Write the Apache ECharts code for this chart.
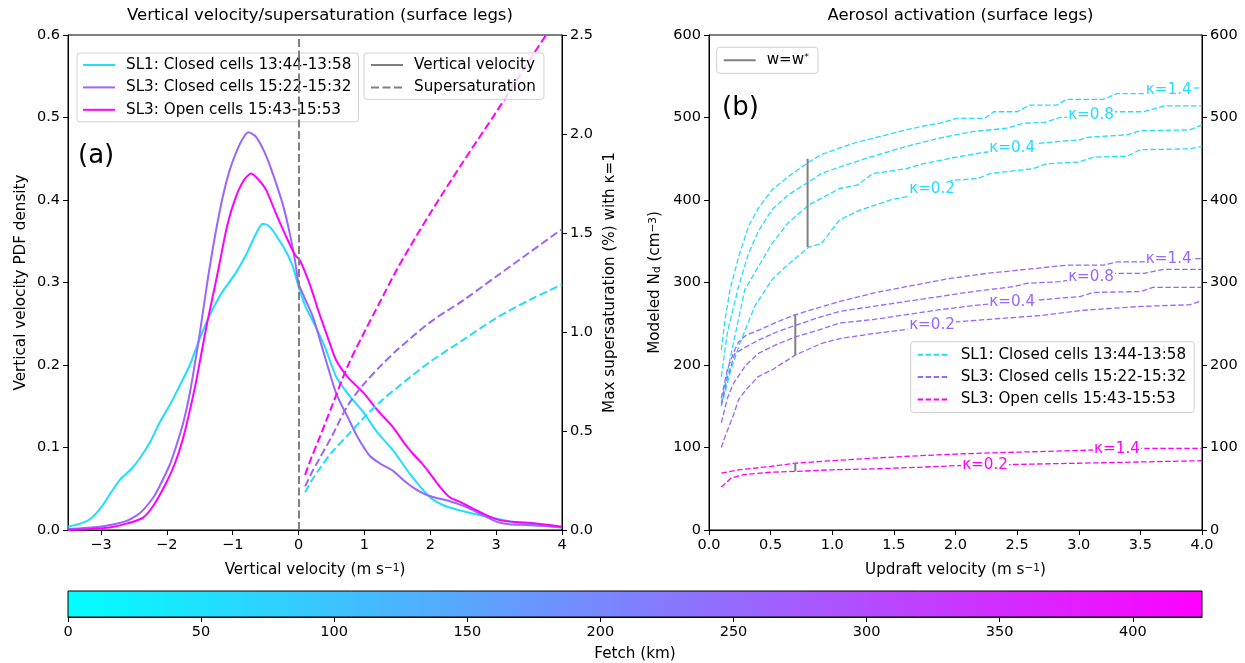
<!DOCTYPE html>
<html><head><meta charset="utf-8">
<script src="https://cdn.jsdelivr.net/npm/echarts@6/dist/echarts.min.js"></script>
<style>html,body{margin:0;padding:0;background:#fff}#c{width:1245px;height:663px}</style>
</head><body><div id="c"></div>
<script>
// ---------------- DATA ----------------
const caseNames = ['SL1: Closed cells 13:44-13:58', 'SL3: Closed cells 15:22-15:32', 'SL3: Open cells 15:43-15:53'];

// Panel (a): vertical velocity PDFs  [w (m/s), density]
const pdfSL1 = [[-3.5,0.004],[-3.3,0.008],[-3.15,0.014],[-3.0,0.027],[-2.85,0.045],[-2.71,0.061],[-2.55,0.073],[-2.41,0.087],[-2.25,0.107],[-2.11,0.13],[-1.95,0.152],[-1.81,0.174],[-1.65,0.2],[-1.5,0.232],[-1.35,0.26],[-1.2,0.283],[-1.1,0.295],[-0.95,0.312],[-0.8,0.333],[-0.7,0.35],[-0.62,0.363],[-0.55,0.371],[-0.48,0.37],[-0.4,0.364],[-0.3,0.352],[-0.2,0.339],[-0.09,0.32],[0,0.295],[0.1,0.272],[0.25,0.248],[0.4,0.222],[0.57,0.186],[0.75,0.165],[0.99,0.142],[1.2,0.118],[1.43,0.097],[1.7,0.067],[1.99,0.04],[2.2,0.03],[2.44,0.024],[2.7,0.019],[3.0,0.014],[3.3,0.009],[3.6,0.006],[4.0,0.003]];
const pdfSL3closed = [[-3.5,0.001],[-3.02,0.004],[-2.8,0.007],[-2.61,0.011],[-2.45,0.018],[-2.36,0.024],[-2.2,0.04],[-2.11,0.053],[-1.95,0.08],[-1.86,0.101],[-1.75,0.13],[-1.65,0.166],[-1.5,0.238],[-1.38,0.303],[-1.26,0.36],[-1.15,0.404],[-1.05,0.435],[-0.95,0.457],[-0.85,0.474],[-0.76,0.482],[-0.65,0.477],[-0.54,0.462],[-0.44,0.443],[-0.34,0.42],[-0.24,0.395],[-0.14,0.362],[-0.05,0.325],[0,0.299],[0.1,0.28],[0.22,0.258],[0.4,0.21],[0.57,0.166],[0.77,0.133],[0.9,0.112],[1.08,0.09],[1.25,0.08],[1.43,0.072],[1.6,0.06],[1.73,0.052],[1.9,0.044],[2.04,0.04],[2.25,0.036],[2.44,0.031],[2.6,0.026],[2.75,0.02],[2.9,0.014],[3.05,0.009],[3.2,0.007],[3.45,0.006],[3.7,0.005],[4.0,0.003]];
const pdfSL3open = [[-3.5,0.0],[-3.2,0.001],[-2.87,0.003],[-2.6,0.008],[-2.36,0.015],[-2.2,0.03],[-2.01,0.057],[-1.88,0.08],[-1.76,0.109],[-1.65,0.145],[-1.55,0.182],[-1.4,0.246],[-1.25,0.303],[-1.2,0.323],[-1.08,0.37],[-0.95,0.404],[-0.83,0.424],[-0.72,0.432],[-0.6,0.424],[-0.49,0.412],[-0.35,0.385],[-0.19,0.356],[-0.05,0.333],[0.02,0.327],[0.17,0.298],[0.3,0.266],[0.45,0.232],[0.57,0.206],[0.75,0.185],[0.99,0.166],[1.2,0.145],[1.43,0.125],[1.6,0.106],[1.73,0.093],[1.87,0.081],[1.99,0.069],[2.15,0.052],[2.29,0.04],[2.45,0.034],[2.65,0.026],[2.85,0.018],[3.05,0.012],[3.25,0.01],[3.45,0.009],[3.7,0.007],[4.0,0.004]];

// Panel (a): max supersaturation (%) with kappa=1
const ssW = [0.1,0.2,0.3,0.5,0.75,1.0,1.25,1.5,2.0,2.5,3.0,3.5,4.0];
const ssSL1 = [0.19,0.25,0.30,0.39,0.48,0.57,0.65,0.72,0.85,0.96,1.07,1.16,1.24];
const ssSL3closed = [0.22,0.29,0.35,0.47,0.63,0.74,0.83,0.91,1.05,1.16,1.28,1.40,1.52];
const ssSL3open = [0.278,0.37,0.45,0.62,0.83,1.0,1.16,1.32,1.6,1.86,2.11,2.37,2.62];
const zeroLineW = 0;

// Panel (b): modeled Nd (cm-3) vs updraft velocity, per kappa
const kappas = [0.2, 0.4, 0.8, 1.4];
const ndSL1_k02 = [[0.1,150],[0.17,190],[0.24,222],[0.37,271],[0.51,303],[0.62,319],[0.81,343],[0.91,347],[1.06,376],[1.23,388],[1.47,400],[1.6,404],[1.75,410],[1.98,424],[2.18,426],[2.28,432],[2.63,438],[2.74,444],[3.0,446],[3.12,452],[3.39,453],[3.5,461],[3.9,462],[4.0,465]];
const ndSL1_k04 = [[0.1,154],[0.18,214],[0.29,291],[0.4,319],[0.51,347],[0.64,372],[0.81,394],[0.91,402],[1.06,414],[1.2,418],[1.33,432],[1.6,438],[1.74,444],[2.01,452],[2.2,457],[2.35,460],[2.55,466],[2.69,469],[3.01,473],[3.07,476],[3.39,479],[3.5,484],[3.9,485],[4.0,491]];
const ndSL1_k08 = [[0.1,186],[0.15,240],[0.24,295],[0.32,335],[0.4,362],[0.51,388],[0.64,406],[0.81,422],[0.91,432],[1.06,440],[1.33,453],[1.6,465],[1.87,475],[2.14,483],[2.42,487],[2.55,493],[2.72,494],[2.85,500],[3.0,501],[3.28,507],[3.53,507],[3.69,514],[4.0,514]];
const ndSL1_k14 = [[0.1,218],[0.13,255],[0.17,291],[0.24,331],[0.32,368],[0.4,390],[0.51,412],[0.64,428],[0.81,446],[0.91,455],[1.06,463],[1.2,470],[1.39,477],[1.6,485],[1.75,490],[1.87,493],[2.01,499],[2.24,499],[2.31,507],[2.5,507],[2.6,515],[2.82,515],[2.9,522],[3.2,522],[3.31,529],[3.55,529],[3.65,533],[3.85,535],[4.0,536]];
const ndSL3c_k02 = [[0.1,100],[0.13,113],[0.2,140],[0.24,158],[0.3,170],[0.4,186],[0.51,194],[0.7,212],[0.91,226],[1.06,232],[1.33,238],[1.6,243],[1.98,252],[2.42,257],[2.7,260],[3.01,266],[3.5,271],[3.9,273],[4.0,278]];
const ndSL3c_k04 = [[0.1,130],[0.15,160],[0.2,178],[0.3,200],[0.4,214],[0.55,225],[0.7,234],[0.9,243],[1.06,251],[1.33,255],[1.6,261],[1.87,267],[2.2,273],[2.69,279],[3.01,283],[3.12,288],[3.5,289],[3.6,294],[4.0,294]];
const ndSL3c_k08 = [[0.1,152],[0.15,185],[0.21,214],[0.3,222],[0.4,230],[0.55,240],[0.7,248],[0.9,258],[1.06,265],[1.33,271],[1.6,277],[1.87,283],[2.14,289],[2.47,295],[2.58,299],[2.85,301],[3.0,305],[3.28,311],[3.53,311],[3.69,316],[4.0,316]];
const ndSL3c_k14 = [[0.1,160],[0.15,195],[0.2,215],[0.24,228],[0.3,236],[0.4,242],[0.55,252],[0.7,261],[0.9,270],[1.06,277],[1.33,287],[1.6,295],[1.96,305],[2.25,311],[2.58,316],[2.9,321],[3.2,321],[3.31,325],[3.55,325],[3.65,328],[4.0,329]];
const ndSL3o_k02 = [[0.1,52],[0.18,63],[0.28,67],[0.5,70],[0.7,71],[1.0,73],[1.32,74],[1.7,76],[2.0,78],[2.67,80],[3.35,82],[4.0,84]];
const ndSL3o_k14 = [[0.1,69],[0.24,73],[0.5,77],[0.7,81],[1.0,84],[1.32,87],[1.7,90],[2.0,92],[2.4,94],[2.67,95],[3.13,97],[3.5,99],[4.0,99]];

// w = w* markers (updraft, low / high Nd across kappa)
const wstar = [0.8, 0.7, 0.7];
const wstarLo = [343, 212, 71];
const wstarHi = [450, 261, 81];

// kappa label positions along the curves (w)
const kLabelW_closed = [1.81, 2.46, 3.1, 3.73];
const kLabelW_open = [2.24, null, null, 3.31];

// colorbar
const fetchMax = 426;
const fetchTicks = [0,50,100,150,200,250,300,350,400];

// ---------------- STYLE ----------------
const colors = ['#22ddff', '#9966ff', '#ff00ff'];
const FONT = 'DejaVu Sans';
const FS = 14.5;   // tick labels
const FS2 = 15.2;  // axis names, legends
const gray = '#808080';

function interp(pts, x) {
  for (let i = 0; i < pts.length - 1; i++) {
    if (x >= pts[i][0] && x <= pts[i+1][0]) {
      const t = (x - pts[i][0]) / (pts[i+1][0] - pts[i][0]);
      return pts[i][1] + t * (pts[i+1][1] - pts[i][1]);
    }
  }
  return pts[pts.length-1][1];
}

const chart = echarts.init(document.getElementById('c'), null, {renderer: 'canvas'});

const axisCommon = {
  axisLine: {show: true, onZero: false, lineStyle: {color: '#000', width: 1}},
  axisTick: {show: true, length: 5, lineStyle: {color: '#000', width: 1}},
  axisLabel: {color: '#000', fontFamily: FONT, fontSize: FS, margin: 8},
  splitLine: {show: false},
  nameTextStyle: {color: '#000', fontFamily: FONT, fontSize: FS2, rich: {
    sup: {fontSize: 10.5, fontFamily: FONT, color: '#000', verticalAlign: 'top', lineHeight: 10},
    sub: {fontSize: 10.5, fontFamily: FONT, color: '#000', verticalAlign: 'bottom', lineHeight: 10}
  }}
};
function ax(o) { return Object.assign({}, JSON.parse(JSON.stringify(axisCommon)), o); }
const minusFmt = v => (v < 0 ? '\u2212' + Math.abs(v) : String(v));

const series = [];
const pdfs = [pdfSL1, pdfSL3closed, pdfSL3open];
const sss = [ssSL1, ssSL3closed, ssSL3open];
pdfs.forEach((d, i) => {
  const s = {
    name: caseNames[i], type: 'line', xAxisIndex: 0, yAxisIndex: 0, data: d,
    symbol: 'none', smooth: 0.25, lineStyle: {color: colors[i], width: 2}, itemStyle: {color: colors[i]}, z: 3
  };
  if (i === 0) {
    s.markLine = {silent: true, symbol: 'none', label: {show: false},
      lineStyle: {color: gray, type: [8, 3.5], width: 2}, data: [{xAxis: zeroLineW}]};
  }
  series.push(s);
});
sss.forEach((d, i) => {
  series.push({
    name: 'ss' + i, type: 'line', xAxisIndex: 0, yAxisIndex: 1,
    data: ssW.map((w, j) => [w, d[j]]), symbol: 'none', smooth: 0.3,
    lineStyle: {color: colors[i], width: 2, type: [8, 3.5]}, itemStyle: {color: colors[i]}, z: 3
  });
});
series.push({name: 'Vertical velocity', type: 'line', xAxisIndex: 0, yAxisIndex: 0, data: [], symbol: 'none',
  lineStyle: {color: gray, width: 2}, itemStyle: {color: gray}});
series.push({name: 'Supersaturation', type: 'line', xAxisIndex: 0, yAxisIndex: 0, data: [], symbol: 'none',
  lineStyle: {color: gray, width: 2, type: [8, 3.5]}, itemStyle: {color: gray}});

// panel b
const ndSets = [
  [ndSL1_k02, ndSL1_k04, ndSL1_k08, ndSL1_k14],
  [ndSL3c_k02, ndSL3c_k04, ndSL3c_k08, ndSL3c_k14],
  [ndSL3o_k02, null, null, ndSL3o_k14]
];
const labelW = [kLabelW_closed, kLabelW_closed, kLabelW_open];
const bNames = ['bSL1', 'bSL3c', 'bSL3o'];
ndSets.forEach((set, c) => {
  set.forEach((d, k) => {
    if (!d) return;
    const lw = labelW[c][k];
    const s = {
      name: bNames[c], type: 'line', xAxisIndex: 1, yAxisIndex: 2, data: d, symbol: 'none',
      lineStyle: {color: colors[c], width: 1.3, type: [5.5, 2.5]}, itemStyle: {color: colors[c]}, z: 3
    };
    if (lw != null) {
      s.markPoint = {silent: true, symbol: 'rect', symbolSize: 0,
        data: [{coord: [lw, interp(d, lw)], value: kappas[k]}],
        label: {show: true, position: 'inside', formatter: '\u03ba=' + kappas[k].toFixed(1),
          color: colors[c], fontFamily: FONT, fontSize: FS2, backgroundColor: '#fff', padding: [0, 1]}};
    }
    series.push(s);
  });
});
wstar.forEach((w, c) => {
  series.push({name: 'w=w*', type: 'line', xAxisIndex: 1, yAxisIndex: 2,
    data: [[w, wstarLo[c]], [w, wstarHi[c]]], symbol: 'none',
    lineStyle: {color: gray, width: 2}, itemStyle: {color: gray}, z: 4});
});

const nameMap = {bSL1: caseNames[0], bSL3c: caseNames[1], bSL3o: caseNames[2], 'w=w*': 'w=w{sup|*}'};
const legendBase = {
  orient: 'vertical', itemWidth: 32, itemHeight: 14, itemGap: 6.4,
  backgroundColor: 'rgba(255,255,255,0.8)', borderColor: '#d0d0d0', borderWidth: 1, borderRadius: 3,
  itemStyle: {color: 'rgba(0,0,0,0)', borderColor: 'rgba(0,0,0,0)', borderWidth: 0, opacity: 0},
  textStyle: {color: '#000', fontFamily: FONT, fontSize: FS2, lineHeight: 16, padding: [0, 0, 0, 6],
    rich: {sup: {fontSize: 9.5, fontFamily: FONT, color: '#000', verticalAlign: 'top', lineHeight: 9}}},
  formatter: n => nameMap[n] || n, selectedMode: false
};
function lg(o) { return Object.assign({}, legendBase, o); }

const option = {
  animation: false,
  backgroundColor: '#fff',
  title: [
    {text: 'Vertical velocity/supersaturation (surface legs)', left: 315, top: 2, textAlign: 'center',
      textStyle: {fontFamily: FONT, fontSize: 16.5, fontWeight: 'normal', color: '#000'}},
    {text: 'Aerosol activation (surface legs)', left: 955.5, top: 2, textAlign: 'center',
      textStyle: {fontFamily: FONT, fontSize: 16.5, fontWeight: 'normal', color: '#000'}},
    {text: '(a)', left: 78, top: 143, padding: 0, textStyle: {fontFamily: FONT, fontSize: 26, fontWeight: 'normal', color: '#000'}},
    {text: '(b)', left: 722, top: 95, padding: 0, textStyle: {fontFamily: FONT, fontSize: 26, fontWeight: 'normal', color: '#000'}}
  ],
  legend: [
    lg({data: caseNames, left: 77, top: 53, padding: [4, 7, 4, 5]}),
    lg({data: ['Vertical velocity', 'Supersaturation'], left: 364, top: 53, padding: [4, 8, 4, 6]}),
    lg({data: ['w=w*'], left: 716.7, top: 47.3, padding: [5, 9, 5, 6]}),
    lg({data: bNames, left: 910.7, top: 341.7, padding: [5, 8, 5, 6]})
  ],
  grid: [
    {left: 68, top: 35, width: 494, height: 495, show: true, borderColor: '#000', borderWidth: 1, backgroundColor: 'transparent'},
    {left: 709, top: 35, width: 493, height: 495, show: true, borderColor: '#000', borderWidth: 1, backgroundColor: 'transparent'},
    {left: 68, top: 591, width: 1134, height: 28, show: true, borderColor: '#000', borderWidth: 1,
      backgroundColor: new echarts.graphic.LinearGradient(0, 0, 1, 0, [{offset: 0, color: '#00ffff'}, {offset: 1, color: '#ff00ff'}])}
  ],
  xAxis: [
    ax({gridIndex: 0, type: 'value', min: -3.5, max: 4, interval: 0.5,
      axisLabel: Object.assign({}, axisCommon.axisLabel, {customValues: [-3,-2,-1,0,1,2,3,4], formatter: minusFmt}),
      axisTick: Object.assign({}, axisCommon.axisTick, {customValues: [-3,-2,-1,0,1,2,3,4]}),
      name: 'Vertical velocity (m s{sup|\u22121})', nameLocation: 'middle', nameGap: 33}),
    ax({gridIndex: 1, type: 'value', min: 0, max: 4, interval: 0.5,
      axisLabel: Object.assign({}, axisCommon.axisLabel, {formatter: v => v.toFixed(1)}),
      name: 'Updraft velocity (m s{sup|\u22121})', nameLocation: 'middle', nameGap: 33}),
    ax({gridIndex: 2, type: 'value', min: 0, max: fetchMax, interval: 50,
      axisLabel: Object.assign({}, axisCommon.axisLabel, {customValues: fetchTicks}),
      axisTick: Object.assign({}, axisCommon.axisTick, {customValues: fetchTicks}),
      name: 'Fetch (km)', nameLocation: 'middle', nameGap: 30})
  ],
  yAxis: [
    ax({gridIndex: 0, type: 'value', min: 0, max: 0.6, interval: 0.1, position: 'left',
      axisLabel: Object.assign({}, axisCommon.axisLabel, {formatter: v => v.toFixed(1)}),
      name: 'Vertical velocity PDF density', nameLocation: 'middle', nameGap: 39, nameRotate: 90}),
    ax({gridIndex: 0, type: 'value', min: 0, max: 2.5, interval: 0.5, position: 'right',
      axisLabel: Object.assign({}, axisCommon.axisLabel, {formatter: v => v.toFixed(1)}),
      name: 'Max supersaturation (%) with \u03ba=1', nameLocation: 'middle', nameGap: 41, nameRotate: 90}),
    ax({gridIndex: 1, type: 'value', min: 0, max: 600, interval: 100, position: 'left',
      name: 'Modeled N{sub|d} (cm{sup|\u22123})', nameLocation: 'middle', nameGap: 46, nameRotate: 90}),
    ax({gridIndex: 1, type: 'value', min: 0, max: 600, interval: 100, position: 'right'}),
    {gridIndex: 2, type: 'value', min: 0, max: 1, show: false}
  ],
  series: series
};
chart.setOption(option);
</script></body></html>
